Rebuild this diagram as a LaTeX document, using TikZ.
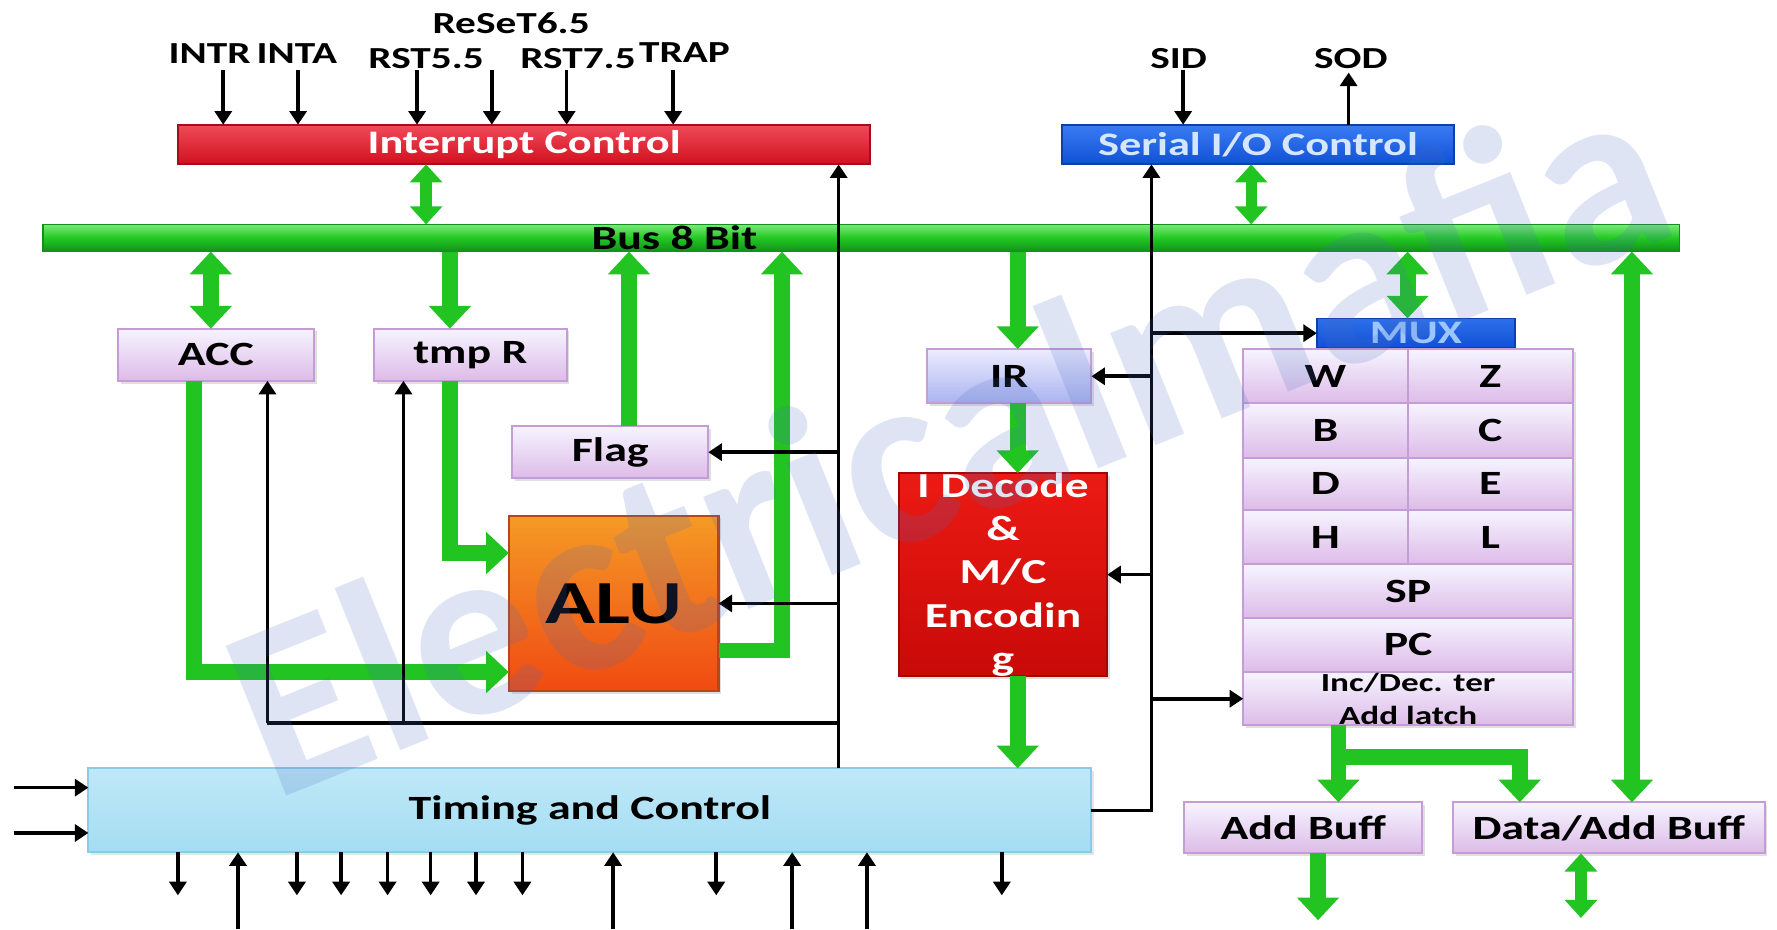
\documentclass[tikz,border=0pt]{standalone}
\usepackage{fontspec}
\setmainfont{Carlito}[FakeStretch=1.35]
\newfontfamily\wmfont{Carlito}
\usetikzlibrary{arrows.meta,shadows}
\definecolor{gA}{HTML}{22C422}
\definecolor{lavT}{HTML}{F6F4FF}
\definecolor{lavB}{HTML}{DDBBE8}
\definecolor{lavD}{HTML}{C49CD6}
\definecolor{tcT}{HTML}{BFE8F7}
\definecolor{tcM}{HTML}{F2FBFF}
\definecolor{tcB}{HTML}{A4DDF3}
\definecolor{tcD}{HTML}{86CDEA}
\definecolor{irT}{HTML}{ECECFF}
\definecolor{irB}{HTML}{A9B3F0}
\definecolor{redT}{HTML}{F04A5A}
\definecolor{redB}{HTML}{D0101E}
\definecolor{decT}{HTML}{EC1A14}
\definecolor{decB}{HTML}{C80A08}
\definecolor{bluT}{HTML}{3A7CF2}
\definecolor{bluB}{HTML}{1050D6}
\definecolor{bluTx}{HTML}{D6E6FF}
\definecolor{muxTx}{HTML}{9CC6FF}
\definecolor{aluT}{HTML}{F59A26}
\definecolor{aluB}{HTML}{F04A12}
\definecolor{aluD}{HTML}{B8461A}
\definecolor{busT}{HTML}{7AEA7A}
\definecolor{busM}{HTML}{22C822}
\definecolor{busB}{HTML}{11901A}
\definecolor{wm}{HTML}{4A6CC0}
\newcommand\mkbox[7]{%
  \pgfmathsetmacro\bxcx{(#3+#5)/2}%
  \pgfmathsetmacro\bxcy{(#4+#6)/2}%
  \pgfmathsetmacro\bxw{(#5-#3)*0.5}%
  \pgfmathsetmacro\bxh{(#6-#4)*0.5}%
  \node[#2, minimum width=\bxw pt, minimum height=\bxh pt] (#1) at (\bxcx,\bxcy) {#7};}
\begin{document}
\begin{tikzpicture}[x=0.5pt,y=-0.5pt,
  base/.style={inner sep=0pt, outer sep=0pt, align=center},
  lav/.style={base, draw=lavD, line width=0.9pt, top color=lavT, bottom color=lavB,
     font=\bfseries\fontsize{15}{17}\selectfont, text=black,
     drop shadow={shadow xshift=1.2pt, shadow yshift=-1.2pt, opacity=0.25}},
  lbl/.style={inner sep=0pt, font=\bfseries\fontsize{13.5}{15}\selectfont, text=black},
  barrow/.style={line width=1.6pt, draw=black, -{Triangle[width=7.5pt,length=6pt]}},
  bline/.style={line width=1.6pt, draw=black},
  garrow/.style={line width=7pt, draw=gA, line join=miter, -{Triangle[width=18pt,length=10pt]}},
  gdbl/.style={line width=7pt, draw=gA, {Triangle[width=18pt,length=10pt]}-{Triangle[width=18pt,length=10pt]}},
  gsmall/.style={line width=5pt, draw=gA, {Triangle[width=14pt,length=8pt]}-{Triangle[width=14pt,length=8pt]}}
]
\useasboundingbox (0,0) rectangle (1568,820);

% ---------- boxes ----------
\mkbox{ic}{base, draw=redB!80!black, line width=0.8pt, top color=redT, bottom color=redB, text=white, font=\bfseries\fontsize{14.5}{16}\selectfont}{157}{110}{768}{145}{Interrupt Control}
\mkbox{ser}{base, draw=bluB!80!black, line width=0.8pt, top color=bluT, bottom color=bluB, text=bluTx, font=\bfseries\fontsize{14.5}{16}\selectfont}{937}{110}{1283}{145}{Serial I/O Control}
\mkbox{bus}{base, draw=busB, line width=0.6pt, top color=busT, bottom color=busB, middle color=busM}{38}{198}{1482}{222}{}
\node[lbl, font=\bfseries\fontsize{15}{16}\selectfont] (busl) at (595,210) {Bus 8 Bit};

\mkbox{acc}{lav}{104}{290}{277}{336}{ACC}
\mkbox{tmp}{lav}{330}{290}{500}{336}{tmp R}
\mkbox{flag}{lav}{452}{376}{625}{422}{Flag}
\mkbox{alu}{base, draw=aluD, line width=0.9pt, top color=aluT, bottom color=aluB, text=black, font=\bfseries\fontsize{27}{29}\selectfont, drop shadow={shadow xshift=1.2pt, shadow yshift=-1.2pt, opacity=0.25}}{449}{455}{634}{610}{ALU}
\mkbox{ir}{lav, top color=irT, bottom color=irB, draw=lavD}{818}{308}{963}{356}{IR}
\mkbox{dec}{base, draw=decB!80!black, line width=0.8pt, top color=decT, bottom color=decB, text=white, font=\bfseries\fontsize{15.5}{19}\selectfont, drop shadow={shadow xshift=1.2pt, shadow yshift=-1.2pt, opacity=0.25}}{793}{421}{977}{593}{I Decode\\\&\\M/C\\Encodin\\g}
\mkbox{mux}{base, draw=bluB!80!black, line width=0.8pt, top color=bluT!70!bluB, bottom color=bluB, text=muxTx, font=\bfseries\fontsize{14.5}{15}\selectfont}{1162}{281}{1337}{307}{MUX}

\mkbox{rW}{lav}{1097}{308}{1242}{356}{W}
\mkbox{rZ}{lav}{1242}{308}{1388}{356}{Z}
\mkbox{rB}{lav}{1097}{356}{1242}{404}{B}
\mkbox{rC}{lav}{1242}{356}{1388}{404}{C}
\mkbox{rD}{lav}{1097}{404}{1242}{450}{D}
\mkbox{rE}{lav}{1242}{404}{1388}{450}{E}
\mkbox{rH}{lav}{1097}{450}{1242}{498}{H}
\mkbox{rL}{lav}{1242}{450}{1388}{498}{L}
\mkbox{sp}{lav}{1097}{498}{1388}{545}{SP}
\mkbox{pc}{lav}{1097}{545}{1388}{593}{PC}
\mkbox{inc}{lav, font=\bfseries\fontsize{11.5}{14.5}\selectfont}{1097}{593}{1388}{640}{Inc/Dec. ter\\Add latch}

\mkbox{ab}{lav}{1045}{708}{1255}{753}{Add Buff}
\mkbox{dab}{lav}{1282}{708}{1557}{753}{Data/Add Buff}
\mkbox{tc}{base, draw=tcD, line width=0.9pt, top color=tcT, middle color=tcM, bottom color=tcB, text=black, font=\bfseries\fontsize{15}{17}\selectfont, drop shadow={shadow xshift=1.2pt, shadow yshift=-1.2pt, opacity=0.2}}{78}{678}{963}{752}{Timing and Control}

% ---------- top labels ----------
\node[lbl] (intr) at (185,47) {INTR};
\node[lbl] (inta) at (262,47) {INTA};
\node[lbl] (r55) at (376,52) {RST5.5};
\node[lbl] (r65) at (451,20) {ReSeT6.5};
\node[lbl] (r75) at (510,52) {RST7.5};
\node[lbl] (trap) at (604,46) {TRAP};
\node[lbl] (sid) at (1040,52) {SID};
\node[lbl] (sod) at (1192,52) {SOD};

\coordinate (a1) at (197,62);
\coordinate (a2) at (263,62);
\coordinate (a3) at (368,62);
\coordinate (a4) at (434,62);
\coordinate (a5) at (500,62);
\coordinate (a6) at (594,62);
\foreach \c in {a1,a2,a3,a4,a5,a6} {\draw[barrow] (\c) -- (\c |- ic.north);}
\coordinate (sidc) at (1044,62);
\draw[barrow] (sidc) -- (sidc |- ser.north);
\coordinate (sodc) at (1190,64);
\draw[barrow] (sodc |- ser.north) -- (sodc);

% ---------- green buses ----------
\coordinate (g1) at (376,0);
\coordinate (g2) at (1104,0);
\draw[gsmall] (ic.south -| g1) -- (bus.north -| g1);
\draw[gsmall] (ser.south -| g2) -- (bus.north -| g2);
\coordinate (gacc) at (186,0);
\draw[gdbl] (bus.south -| gacc) -- (acc.north -| gacc);
\coordinate (gtmpd) at (397,0);
\draw[garrow] (bus.south -| gtmpd) -- (tmp.north -| gtmpd);
\coordinate (gf) at (555,0);
\draw[garrow] (flag.north -| gf) -- (bus.south -| gf);
\coordinate (ga) at (690,574);
\draw[garrow] (alu.east |- ga) -| (bus.south -| ga);
\coordinate (gaccd) at (171,593);
\draw[garrow] (acc.south -| gaccd) |- (alu.west |- gaccd);
\coordinate (gtmp) at (397,488);
\draw[garrow] (tmp.south -| gtmp) |- (alu.west |- gtmp);
\coordinate (gir) at (898,0);
\draw[garrow] (bus.south -| gir) -- (ir.north -| gir);
\draw[garrow] (ir.south -| gir) -- (dec.north -| gir);
\draw[garrow] (dec.south -| gir) -- (tc.north -| gir);
\coordinate (gmux) at (1242,0);
\draw[gdbl] (bus.south -| gmux) -- (mux.north -| gmux);
\coordinate (gbig) at (1440,0);
\draw[gdbl] (bus.south -| gbig) -- (dab.north -| gbig);
\coordinate (ginc) at (1181,668);
\coordinate (gdab) at (1341,668);
\draw[garrow] (inc.south -| ginc) -- (ab.north -| ginc);
\draw[garrow] ([xshift=-3pt]ginc) -| (dab.north -| gdab);
\coordinate (gab) at (1163,812);
\draw[garrow] (ab.south -| gab) -- (gab);
\coordinate (gdd) at (1395,810);
\draw[gsmall] (dab.south -| gdd) -- (gdd);

% ---------- black control lines ----------
\coordinate (vL) at (740,0);
\draw[barrow] (tc.north -| vL) -- (ic.south -| vL);
\draw[barrow] (vL |- flag.east) -- (flag.east);
\draw[barrow] (vL |- alu.east) -- (alu.east);
\coordinate (hB) at (0,638);
\coordinate (vacc) at (236,0);
\coordinate (vtmp) at (356,0);
\draw[bline] (hB -| vL) -- (hB -| vacc);
\draw[barrow] (hB -| vacc) -- (acc.south -| vacc);
\draw[barrow] (hB -| vtmp) -- (tmp.south -| vtmp);

\coordinate (vR) at (1016,0);
\draw[barrow] (tc.east) -| (ser.south -| vR);
\draw[barrow] (vR |- mux.west) -- (mux.west);
\draw[barrow] (vR |- ir.east) -- (ir.east);
\draw[barrow] (vR |- dec.east) -- (dec.east);
\draw[barrow] (vR |- inc.west) -- (inc.west);

% ---------- timing I/O ----------
\coordinate (li1) at (12,695);
\coordinate (li2) at (12,735);
\draw[barrow] (li1) -- (li1 -| tc.west);
\draw[barrow] (li2) -- (li2 -| tc.west);
\foreach \x [count=\i] in {157,262,301,342,380,420,461,632,884} {
  \coordinate (dn\i) at (\x,790);
  \draw[barrow] (dn\i |- tc.south) -- (dn\i);
}
\foreach \x [count=\i] in {210,541,699,765} {
  \coordinate (up\i) at (\x,820);
  \draw[barrow] (up\i) -- (up\i |- tc.south);
}

% ---------- watermark ----------
\node[rotate=22, font=\wmfont\bfseries\fontsize{110}{110}\selectfont, text=wm, text opacity=0.18, inner sep=0pt] (wmk) at (835,385) {Electricalmafia};
\end{tikzpicture}
\end{document}
